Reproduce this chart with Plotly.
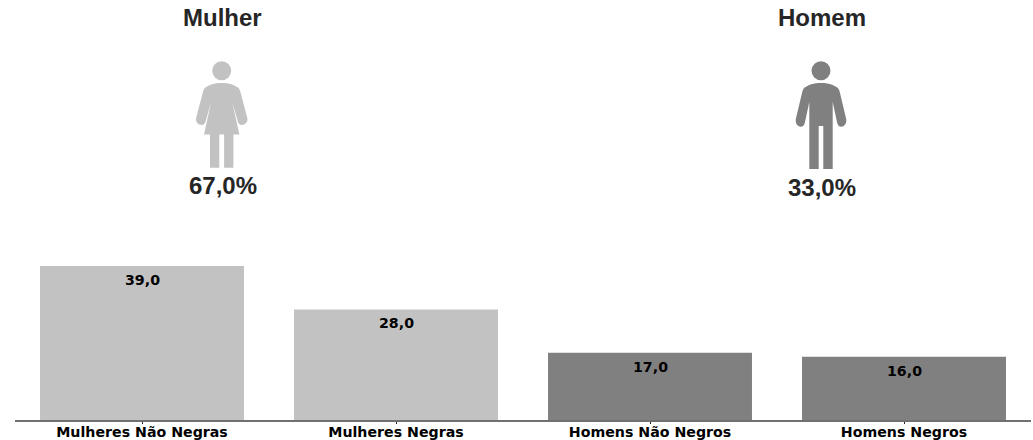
import plotly.graph_objects as go

categories = ["Mulheres Não Negras", "Mulheres Negras", "Homens Não Negros", "Homens Negros"]
values = [39.0, 28.0, 17.0, 16.0]
bar_colors = ["#c2c2c2", "#c2c2c2", "#808080", "#808080"]
value_labels = ["39,0", "28,0", "17,0", "16,0"]

W, H = 1033, 440
L, R, B = 15, 2, 20
PW, PH = W - L - R, H - B


def px(x):
    return (x - L) / PW


def py(y):
    return (PH - y) / PH


def path(segs):
    out = []
    for s in segs:
        cmd, pts = s[0], s[1:]
        out.append(cmd + " ".join(f"{px(a):.5f},{py(b):.5f}" for a, b in pts))
    return " ".join(out) + " Z"


def circle(cx, cy, r):
    return dict(type="circle", xref="paper", yref="paper", x0=px(cx - r), x1=px(cx + r),
                y0=py(cy + r), y1=py(cy - r), fillcolor=None, line_width=0)


def woman(c):
    return path([
        ("M", (c, 83)),
        ("C", (c - 7, 83), (c - 13, 85), (c - 17, 88)),
        ("C", (c - 18, 89.5), (c - 18.5, 91), (c - 19, 93)),
        ("L", (c - 25.6, 118)),
        ("C", (c - 26.5, 122), (c - 23, 125.2), (c - 20, 125)),
        ("C", (c - 18, 125), (c - 16.5, 123.5), (c - 16, 121)),
        ("L", (c - 10.5, 102)),
        ("L", (c - 17.7, 134.5)),
        ("L", (c - 11.7, 134.5)),
        ("L", (c - 11.7, 167.7)),
        ("L", (c - 2.4, 167.7)),
        ("L", (c - 2.4, 134.5)),
        ("L", (c + 2.4, 134.5)),
        ("L", (c + 2.4, 167.7)),
        ("L", (c + 11.7, 167.7)),
        ("L", (c + 11.7, 134.5)),
        ("L", (c + 17.7, 134.5)),
        ("L", (c + 10.5, 102)),
        ("L", (c + 16, 121)),
        ("C", (c + 16.5, 123.5), (c + 18, 125), (c + 20, 125)),
        ("C", (c + 23, 125.2), (c + 26.5, 122), (c + 25.6, 118)),
        ("L", (c + 19, 93)),
        ("C", (c + 18.5, 91), (c + 18, 89.5), (c + 17, 88)),
        ("C", (c + 13, 85), (c + 7, 83), (c, 83)),
    ])


def man(c):
    return path([
        ("M", (c, 83)),
        ("C", (c - 7, 83), (c - 13, 85), (c - 17, 88)),
        ("C", (c - 18, 89.5), (c - 18.5, 91), (c - 19, 93)),
        ("L", (c - 25.2, 119)),
        ("C", (c - 26, 123.5), (c - 23, 126.8), (c - 20, 126.7)),
        ("C", (c - 18, 126.7), (c - 16.5, 125), (c - 16, 122)),
        ("L", (c - 11.7, 102)),
        ("L", (c - 11.7, 169)),
        ("L", (c - 2.3, 169)),
        ("L", (c - 2.3, 126)),
        ("L", (c + 2.3, 126)),
        ("L", (c + 2.3, 169)),
        ("L", (c + 11.7, 169)),
        ("L", (c + 11.7, 102)),
        ("L", (c + 16, 122)),
        ("C", (c + 16.5, 125), (c + 18, 126.7), (c + 20, 126.7)),
        ("C", (c + 23, 126.8), (c + 26, 123.5), (c + 25.2, 119)),
        ("L", (c + 19, 93)),
        ("C", (c + 18.5, 91), (c + 18, 89.5), (c + 17, 88)),
        ("C", (c + 13, 85), (c + 7, 83), (c, 83)),
    ])


shapes = []
for c, fn, col in [(221.7, woman, "#c2c2c2"), (821, man, "#808080")]:
    head = circle(c, 70.8, 9.5)
    head["fillcolor"] = col
    shapes.append(head)
    shapes.append(dict(type="path", xref="paper", yref="paper", path=fn(c), fillcolor=col, line_width=0))

header_font = dict(family="Liberation Sans, Arial, sans-serif", size=24, color="#262626")
headers = [("<b>Mulher</b>", 222.5, 18), ("<b>Homem</b>", 822, 18),
           ("<b>67,0%</b>", 222.5, 185), ("<b>33,0%</b>", 822, 187)]
annotations = [dict(text=t, x=px(x), y=py(y), xref="paper", yref="paper", showarrow=False,
                    xanchor="center", yanchor="middle", font=header_font) for t, x, y in headers]
for cat, v, lab in zip(categories, values, value_labels):
    annotations.append(dict(text=f"<b>{lab}</b>", x=cat, y=v, xref="x", yref="y", showarrow=False,
                            xanchor="center", yanchor="middle", yshift=-14,
                            font=dict(family="DejaVu Sans", size=14.2, color="#000000")))

fig = go.Figure(go.Bar(x=categories, y=values, width=0.803, marker=dict(color=bar_colors, line_width=0)))
fig.update_layout(
    width=W, height=H, autosize=False, showlegend=False,
    margin=dict(l=L, r=R, t=0, b=B, pad=0),
    paper_bgcolor="white", plot_bgcolor="white",
    shapes=shapes, annotations=annotations,
    xaxis=dict(type="category", categoryorder="array", categoryarray=categories, range=[-0.5, 3.5],
               automargin=False, ticklabelstandoff=-4,
               showgrid=False, zeroline=False, showline=True, linecolor="#707070", linewidth=1.5,
               ticks="outside", ticklen=2, tickwidth=1, tickcolor="#222222",
               tickfont=dict(family="DejaVu Sans", size=14.2, color="#000000"),
               tickvals=categories, ticktext=[f"<b>{c}</b>" for c in categories]),
    yaxis=dict(range=[0, 420 / 3.95], visible=False, showgrid=False, zeroline=False, automargin=False),
)
fig.write_html("out.html", config=dict(displayModeBar=False),
               post_script="document.body.style.margin='0';document.body.style.overflow='hidden';")
